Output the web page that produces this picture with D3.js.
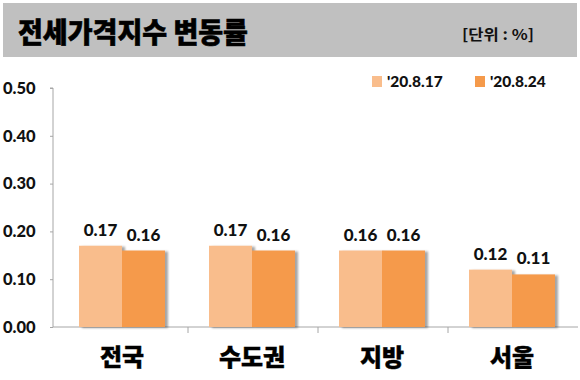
<!DOCTYPE html>
<html><head><meta charset="utf-8">
<script src="https://cdn.jsdelivr.net/npm/d3@7"></script>
<style>body{margin:0;background:#fff}svg{display:block}</style>
</head><body>
<svg id="c" width="580" height="380"></svg>
<script>
const categories = ["전국", "수도권", "지방", "서울"];
const seriesNames = ["'20.8.17", "'20.8.24"];
const values0817 = [0.17, 0.17, 0.16, 0.12];
const values0824 = [0.16, 0.16, 0.16, 0.11];
const yTicks = [0, 0.1, 0.2, 0.3, 0.4, 0.5];
const colors = ["#F9BD8C", "#F59A4B"];

const svg = d3.select("#c");
const numFont = "Lato, 'Open Sans', sans-serif";
const krFont = "'Noto Sans CJK KR', sans-serif";

const defs = svg.append("defs");
const f = defs.append("filter").attr("id","sh").attr("x","-10%").attr("y","-10%").attr("width","130%").attr("height","120%");
f.append("feDropShadow").attr("dx",3).attr("dy",1).attr("stdDeviation",1.2).attr("flood-color","#000").attr("flood-opacity",0.35);

// title bar
svg.append("rect").attr("x",3).attr("y",3).attr("width",574).attr("height",54).attr("fill","#C0C0C0");
svg.append("text").attr("x",18).attr("y",43).attr("font-family",krFont).attr("font-weight",900)
  .attr("font-size",28).attr("fill","#000").attr("textLength",230).attr("lengthAdjust","spacingAndGlyphs")
  .attr("stroke","#000").attr("stroke-width",0.6)
  .text("전세가격지수 변동률");
svg.append("text").attr("x",462).attr("y",40).attr("font-family",krFont).attr("font-weight",700)
  .attr("font-size",15).attr("fill","#111").attr("textLength",72).attr("lengthAdjust","spacingAndGlyphs")
  .text("[단위 : %]");

const x0 = d3.scaleBand().domain(categories).range([58, 578]).paddingInner(0).paddingOuter(0);
const y = d3.scaleLinear().domain([0, 0.5]).range([327, 88]);
const x1 = d3.scaleBand().domain([0,1]).range([0, 86]);

const g = svg.append("g");
const yAxis = d3.axisLeft(y).tickValues(yTicks).tickFormat(d3.format(".2f")).tickSize(3).tickPadding(13);
const ya = g.append("g").attr("transform","translate(53,0)").call(yAxis);
ya.select(".domain").attr("stroke","#A6A6A6").attr("d","M-3,88H0V327");
ya.selectAll(".tick line").attr("stroke","#A6A6A6");
ya.selectAll(".tick text").attr("font-family",numFont).attr("font-weight",900).attr("font-size",16.5)
  .attr("fill","#111").attr("text-anchor","start").attr("x",-50);

const xa = g.append("g").attr("transform","translate(0,327)")
  .call(d3.axisBottom(x0).tickSize(0).tickFormat(""));
xa.select(".domain").attr("stroke","#A6A6A6").attr("d","M53,0H578");
xa.selectAll(".tick").remove();
const bounds = categories.slice(1).map(c => x0(c));
g.selectAll(".sep").data(bounds).join("line").attr("class","sep")
  .attr("x1",d=>d).attr("x2",d=>d).attr("y1",327).attr("y2",333).attr("stroke","#A6A6A6");

g.selectAll(".cat").data(categories).join("text").attr("class","cat")
  .attr("x",d=>x0(d)+x0.bandwidth()/2 - 1).attr("y",366).attr("text-anchor","middle")
  .attr("font-family",krFont).attr("font-weight",900).attr("font-size",24).attr("fill","#000")
  .attr("stroke","#000").attr("stroke-width",0.4)
  .text(d=>d);

const data = categories.map((c,i)=>({c, v:[values0817[i], values0824[i]]}));
const groupOff = (x0.bandwidth()-86)/2 - 1;
const grp = g.selectAll(".grp").data(data).join("g").attr("class","grp")
  .attr("transform",d=>`translate(${x0(d.c)+groupOff},0)`);
grp.selectAll("rect").data(d=>d.v.map((v,k)=>({v,k}))).join("rect")
  .attr("x",d=>x1(d.k)).attr("width",x1.bandwidth()).attr("y",d=>y(d.v)).attr("height",d=>y(0)-y(d.v))
  .attr("fill",d=>colors[d.k]).attr("filter","url(#sh)");
grp.selectAll(".vl").data(d=>d.v.map((v,k)=>({v,k}))).join("text").attr("class","vl")
  .attr("x",d=>x1(d.k)+x1.bandwidth()/2).attr("y",d=>y(d.v)-10).attr("text-anchor","middle")
  .attr("font-family",numFont).attr("font-weight",900).attr("font-size",17).attr("fill","#111")
  .text(d=>d3.format(".2f")(d.v));

const lg = svg.append("g");
seriesNames.forEach((s,i)=>{
  const lx = [372, 475][i];
  lg.append("rect").attr("x",lx).attr("y",76).attr("width",10).attr("height",11).attr("fill",colors[i]);
  lg.append("text").attr("x",lx+15).attr("y",87).attr("font-family",numFont).attr("font-weight",900)
    .attr("font-size",15.5).attr("fill","#111").text(s);
});
</script>
</body></html>
